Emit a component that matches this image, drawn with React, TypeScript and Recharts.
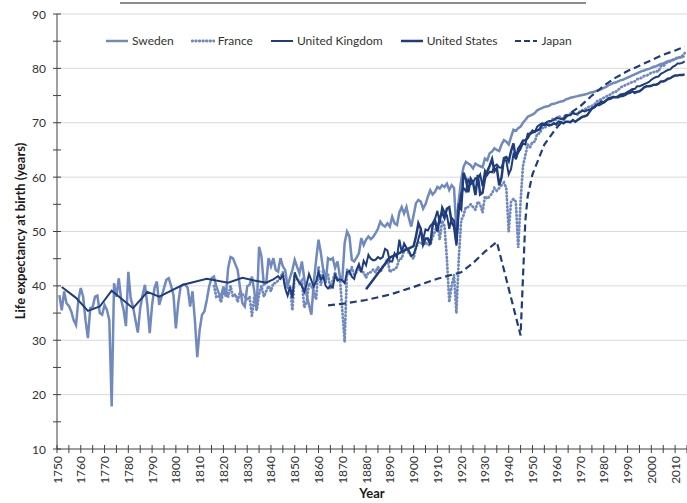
import { LineChart, Line, XAxis, YAxis, CartesianGrid } from "recharts";

// ---- data ----
const xTicks = [
  1750, 1755, 1760, 1765, 1770, 1775, 1780, 1785, 1790, 1795, 1800, 1805, 1810, 1815,
  1820, 1825, 1830, 1835, 1840, 1845, 1850, 1855, 1860, 1865, 1870, 1875, 1880, 1885,
  1890, 1895, 1900, 1905, 1910, 1915, 1920, 1925, 1930, 1935, 1940, 1945, 1950, 1955,
  1960, 1965, 1970, 1975, 1980, 1985, 1990, 1995, 2000, 2005, 2010, 2015,
];
const yTicks = [10, 15, 20, 25, 30, 35, 40, 45, 50, 55, 60, 65, 70, 75, 80, 85, 90];
const gridValues = [20, 30, 40, 50, 60, 70, 80, 90];

// Sweden, yearly from 1751
const swedenStart = 1751;
const swedenValues = [
  38.3, 35.5, 39.0, 36.8, 36.3, 35.3, 33.7, 32.8, 37.4, 39.6, 38.0, 33.7, 30.4, 35.9, 36.1,
  38.0, 38.2, 35.0, 34.7, 36.5, 35.6, 33.7, // 1751-1772
  17.8, 40.5, 38.0, 41.4, 37.4, 35.6, 32.6, 42.6, 37.7, 36.1, 33.7, 31.4, 35.9, 38.3, 40.2,
  36.5, 31.3, 36.5, 39.6, 40.8, 36.5, 38.0, 39.6, 41.1, 41.4, // 1773-1797
  40.0, 38.3, 32.2, 36.8, 39.9, 40.2, 40.2, 39.6, 36.2, 39.0, 33.7, 26.9, 31.9, 34.7, 35.3,
  37.4, 39.9, 41.4, 41.7, 39.9, 38.7, 38.0, 39.9, 38.0, 43.3, // 1798-1822
  45.3, 45.1, 44.0, 42.9, 39.6, 36.8, 36.2, 39.9, 40.2, 41.7, 39.0, 35.6, 47.2, // 1823-1835
  45.4, 40.2, 40.5, 45.1, 43.6, 45.1, 42.9, 42.6, 45.1, 43.6, 42.9, 39.9, 41.5, 42.9, 44.8,
  43.5, 42.3, 44.5, 41.4, 38.3, 36.5, 34.7, 40.5, 44.8, 48.5, // 1836-1860
  46.0, 42.9, 40.5, 45.1, 44.8, 45.1, 43.3, 44.5, 41.7, 41.1, 47.9, 50.0, 49.1, 44.8, 44.5,
  45.2, 46.0, 48.8, 47.5, 48.5, 49.1, 48.6, 49.0, 49.7, // 1861-1884
  50.5, 51.8, 51.2, 50.9, 51.5, 50.9, 52.7, 51.5, 51.2, 53.5, 54.5, 53.3, 54.5, 52.5, 50.9,
  53.0, 55.2, 55.8, 55.5, 54.2, 55.0, 56.4, 57.6, 56.8, 57.3, 58.2, 57.9, 58.5, 58.2, 58.8,
  57.6, 58.5, 58.0, 50.2, 55.8, 59.4, 61.9, 62.8, // 1885-1922
  62.5, 62.2, 61.6, 62.5, 62.2, 62.0, 61.8, 63.4, 63.1, 64.4, 64.7, 65.3, 65.0, 64.8, 66.0,
  66.8, 66.5, 66.0, 67.4, 68.7, 68.5, 69.0, 69.3, 70.0, 70.5, 71.1, 71.3, 71.5, // 1923-1950
  71.8, 72.3, 72.5, 72.7, 72.9, 73.0, 73.1, 73.4, 73.5, 73.6, // 1951-1960
  73.8, 73.9, 74.0, 74.3, 74.4, 74.6, 74.7, 74.8, 74.9, 75.0, // 1961-1970
  75.1, 75.2, 75.3, 75.5, 75.6, 75.7, 75.9, 76.0, 76.2, 76.4, // 1971-1980
  76.6, 76.9, 77.1, 77.3, 77.4, 77.6, 77.8, 77.9, 78.1, 78.3, // 1981-1990
  78.5, 78.7, 78.9, 79.1, 79.3, 79.5, 79.6, 79.8, 79.9, 80.1, // 1991-2000
  80.3, 80.4, 80.6, 80.8, 80.9, 81.1, 81.3, 81.4, 81.6, 81.7, // 2001-2010
  81.9, 82.0, 82.1, 82.3, // 2011-2014
];

// France, yearly from 1816
const franceStart = 1816;
const franceValues = [
  40.0, 38.0, 38.2, 37.0, // 1816-1819
  39.0, 39.5, 38.0, 40.0, 38.0, 38.5, 37.0, 39.0, 38.5, 38.0,
  37.5, 38.0, 34.5, 38.0, 35.5, 38.5, 40.0, 38.0, 39.0, 40.0,
  39.0, 40.5, 40.5, 41.0, 41.5, 42.5, 40.0, 39.5, 40.0, 35.5,
  42.0, 41.5, 40.5, 41.0, 36.0, 37.0, 40.5, 40.0, 39.0, 37.5,
  43.5, 40.0, 43.0, 42.0, 42.0, 39.5, 41.0, 42.5, 41.0, 41.5,
  35.5, 29.7, 43.0, 42.0, 43.5, 42.0, 42.5, 43.5, 42.5, 42.5,
  41.5, 42.5, 42.5, 43.0, 42.5, 43.5, 42.5, 43.5, 44.0, 45.0,
  42.5, 43.0, 43.0, 43.5, 45.0, 45.0, 46.5, 47.0, 46.0, 45.5,
  45.0, 47.0, 48.0, 48.0, 47.5, 48.0, 47.5, 47.5, 49.0, 50.0,
  51.5, 48.5, 52.0, 51.0, 45.0, 37.0, 40.0, 42.0, 35.0, 45.0,
  52.0, 53.0, 54.5, 54.5, 55.0, 54.5, 54.0, 55.5, 55.0, 53.5,
  56.5, 56.0, 56.5, 57.0, 58.0, 57.5, 58.0, 58.5, 59.0, 58.0,
  50.0, 55.5, 56.0, 55.5, 47.0, 55.5, 62.0, 64.0, 66.0, 65.5,
  66.5, 66.5, 68.0, 68.0, 69.0, 69.0, 69.5, 69.8, 70.5, 70.8,
  70.5, 71.3, 70.8, 70.8, 71.5, 71.3, 71.7, 71.7, 71.6, 71.5,
  72.2, 72.3, 72.5, 72.7, 73.0, 73.1, 73.3, 73.9, 74.1, 74.4,
  74.6, 74.8, 75.1, 75.2, 75.6, 75.7, 76.0, 76.5, 76.7, 76.9,
  77.1, 77.3, 77.5, 77.6, 78.0, 78.1, 78.3, 78.6, 78.7, 78.9,
  79.2, 79.3, 79.5, 79.4, 80.4, 80.4, 80.9, 81.2, 81.3, 81.5,
  81.7, 82.1, 82.0, 82.3, 82.8, // 2010-2014
];

// United Kingdom: sparse estimates before 1841, yearly after
const ukEarlyYears = [1752, 1758, 1763, 1768, 1773, 1782, 1788, 1793, 1803, 1813, 1822, 1828, 1833, 1838];
const ukEarlyValues = [39.8, 37.8, 35.4, 36.2, 39.1, 35.9, 38.9, 38.0, 40.2, 41.3, 40.6, 41.5, 41.0, 40.6];
const ukStart = 1841;
const ukValues = [
  41.2, 41.5, 41.8, 41.3, 42.0, 39.5, 38.2, 39.8, 37.8, // 1841-1849
  42.5, 41.2, 40.6, 40.0, 38.9, 40.3, 42.2, 41.0, 39.9, 40.8,
  42.5, 41.2, 41.8, 40.0, 39.5, 40.0, 39.7, 42.0, 41.0, 41.2,
  41.0, 40.5, 42.5, 42.7, 41.7, 41.3, 43.0, 44.0, 42.5, 44.6,
  43.8, 45.7, 45.0, 44.7, 44.8, 45.3, 45.0, 45.3, 46.8, 46.5,
  44.5, 44.5, 46.0, 45.2, 48.5, 46.2, 47.8, 47.0, 46.5, 45.5,
  45.8, 47.0, 48.6, 50.2, 48.5, 50.4, 50.2, 51.0, 51.5, 52.3,
  53.8, 51.5, 54.5, 53.5, 53.0, 50.5, 52.5, 52.0, 47.4, 54.0,
  57.0, 58.0, 57.4, 59.5, 58.7, 59.0, 59.8, 59.7, 60.5, 58.3,
  61.2, 60.4, 61.0, 60.9, 62.0, 62.3, 61.8, 61.7, 63.2, 63.0,
  60.5, 61.5, 64.2, 63.5, 64.5, 65.2, 66.2, 66.0, 68.0, 68.0,
  68.6, 68.3, 69.3, 69.6, 69.9, 69.8, 70.1, 70.3, 70.3, 70.5,
  70.9, 70.8, 70.7, 70.6, 71.4, 71.4, 71.4, 71.9, 71.6, 71.7,
  71.9, 72.2, 72.1, 72.3, 72.4, 72.7, 72.8, 73.2, 73.2, 73.4,
  73.8, 74.1, 74.3, 74.4, 74.8, 74.7, 74.9, 75.2, 75.3, 75.4,
  75.7, 75.9, 76.2, 76.2, 76.7, 76.7, 76.9, 77.1, 77.3, 77.5,
  77.9, 78.2, 78.4, 78.5, 79.0, 79.2, 79.5, 79.7, 79.8, 80.3,
  80.5, 80.9, 80.9, 81.0, 81.3, // 2010-2014
];

// United States: 1880, 1890, then yearly from 1900
const usEarlyYears = [1880, 1890];
const usEarlyValues = [39.4, 45.2];
const usStart = 1900;
const usValues = [
  47.3, 49.1, 51.5, 50.5, 47.6, 48.7, 48.7, 47.6, 51.1, 52.1,
  50.0, 52.6, 53.5, 52.5, 54.2, 54.5, 51.7, 50.9, 47.8, 54.7,
  54.1, 60.8, 59.6, 57.2, 59.7, 59.0, 56.7, 60.4, 56.8, 57.1,
  59.7, 61.1, 62.1, 63.3, 61.1, 61.7, 58.5, 60.0, 63.5, 63.7,
  62.9, 64.8, 66.2, 63.3, 65.2, 65.9, 66.7, 66.8, 67.2, 68.0,
  68.2, 68.4, 68.6, 68.8, 69.6, 69.6, 69.7, 69.5, 69.6, 69.9,
  69.7, 70.2, 70.1, 69.9, 70.2, 70.2, 70.1, 70.5, 70.2, 70.5,
  70.8, 71.1, 71.2, 71.4, 72.0, 72.6, 72.9, 73.3, 73.5, 73.9,
  73.7, 74.1, 74.5, 74.6, 74.7, 74.7, 74.7, 74.9, 74.9, 75.1,
  75.4, 75.5, 75.8, 75.5, 75.7, 75.8, 76.1, 76.5, 76.7, 76.7,
  76.8, 77.0, 77.0, 77.2, 77.6, 77.6, 77.8, 78.1, 78.2, 78.5,
  78.7, 78.7, 78.8, 78.8, 78.9, // 2010-2014
];

// Japan
const japanYears = [
  1864, 1870, 1880, 1890, 1900, 1910, 1920, 1925, 1930, 1935, 1945, 1947, 1948, 1950,
  1955, 1960, 1965, 1970, 1975, 1980, 1985, 1990, 1995, 2000, 2005, 2010, 2014,
];
const japanValues = [
  36.4, 36.7, 37.4, 38.4, 39.8, 41.3, 42.5, 44.2, 46.3, 48.1, 30.9, 52.0, 56.5, 60.5,
  66.0, 69.0, 71.5, 73.0, 75.0, 76.8, 78.3, 79.5, 80.5, 81.5, 82.5, 83.3, 84.0,
];

// ---- tables for the chart ----
const yearly = (start: number, values: number[]) =>
  values.map((v, i) => ({ year: start + i, value: v }));
const paired = (years: number[], values: number[]) =>
  years.map((y, i) => ({ year: y, value: values[i] }));

const swedenData = yearly(swedenStart, swedenValues);
const franceData = yearly(franceStart, franceValues);
const ukData = [...paired(ukEarlyYears, ukEarlyValues), ...yearly(ukStart, ukValues)];
const usData = [...paired(usEarlyYears, usEarlyValues), ...yearly(usStart, usValues)];
const japanData = paired(japanYears, japanValues);

const LIGHT = "#7089bf";
const NAVY = "#1f3d7c";
const AXIS = "#404040";
const TEXT = "#333333";
const FRANCE_DASH = "0.6 3";
const JAPAN_DASH = "7 4";

const YearTick = (props: any) => {
  const { x, y, payload } = props;
  const yr = payload.value;
  return (
    <g>
      <line x1={x} x2={x} y1={y - 4} y2={y + 4} stroke={AXIS} strokeWidth={1} />
      {yr % 10 === 0 && (
        <text
          x={x}
          y={y + 7}
          transform={`rotate(-90 ${x} ${y + 7})`}
          textAnchor="end"
          dominantBaseline="central"
          fontSize={12}
          fill={TEXT}
        >
          {yr}
        </text>
      )}
    </g>
  );
};

const ValueTick = (props: any) => {
  const { x, y, payload } = props;
  const v = payload.value;
  return (
    <g>
      <line x1={x - 4} x2={x + 4} y1={y} y2={y} stroke={AXIS} strokeWidth={1} />
      {v % 10 === 0 && (
        <text x={x - 11} y={y} textAnchor="end" dominantBaseline="central" fontSize={12} fill={TEXT}>
          {v}
        </text>
      )}
    </g>
  );
};

const legendItems = [
  { name: "Sweden", color: LIGHT, width: 2.5, dash: undefined as string | undefined, cap: "butt" },
  { name: "France", color: LIGHT, width: 2.8, dash: FRANCE_DASH, cap: "round" },
  { name: "United Kingdom", color: NAVY, width: 2, dash: undefined, cap: "butt" },
  { name: "United States", color: NAVY, width: 2.5, dash: undefined, cap: "butt" },
  { name: "Japan", color: NAVY, width: 2.2, dash: "6 3", cap: "butt" },
];

export default function App() {
  return (
    <div
      style={{
        position: "absolute",
        left: 0,
        top: 0,
        width: 687,
        height: 503,
        background: "#ffffff",
        fontFamily: "Lato, 'Open Sans', sans-serif",
        overflow: "hidden",
      }}
    >
      {/* cropped frame edge at the very top */}
      <div style={{ position: "absolute", left: 120, top: 2, width: 466, height: 2, background: "#8c8c8c" }} />

      <LineChart width={687} height={503} margin={{ top: 14, right: 0, bottom: 0, left: 0 }}>
        <CartesianGrid vertical={false} horizontalValues={gridValues} stroke="#d9d9d9" strokeWidth={1} />
        <XAxis
          dataKey="year"
          type="number"
          domain={[1750, 2015]}
          ticks={xTicks}
          interval={0}
          height={54}
          tickSize={0}
          tickMargin={0}
          tickLine={false}
          axisLine={{ stroke: AXIS, strokeWidth: 1 }}
          tick={<YearTick />}
          allowDataOverflow
        />
        <YAxis
          type="number"
          domain={[10, 90]}
          ticks={yTicks}
          interval={0}
          width={57}
          tickSize={0}
          tickMargin={0}
          tickLine={false}
          axisLine={{ stroke: AXIS, strokeWidth: 1 }}
          tick={<ValueTick />}
          allowDataOverflow
        />
        <Line data={swedenData} dataKey="value" type="linear" stroke={LIGHT} strokeWidth={2.5} dot={false} activeDot={false} isAnimationActive={false} />
        <Line data={franceData} dataKey="value" type="linear" stroke={LIGHT} strokeWidth={2.8} strokeDasharray={FRANCE_DASH} strokeLinecap="round" dot={false} activeDot={false} isAnimationActive={false} />
        <Line data={ukData} dataKey="value" type="linear" stroke={NAVY} strokeWidth={2} dot={false} activeDot={false} isAnimationActive={false} />
        <Line data={usData} dataKey="value" type="linear" stroke={NAVY} strokeWidth={2.5} dot={false} activeDot={false} isAnimationActive={false} />
        <Line data={japanData} dataKey="value" type="linear" stroke={NAVY} strokeWidth={2.2} strokeDasharray={JAPAN_DASH} dot={false} activeDot={false} isAnimationActive={false} />
      </LineChart>

      {/* legend */}
      <div
        style={{
          position: "absolute",
          left: 105,
          top: 33,
          display: "flex",
          alignItems: "center",
          gap: 17,
          fontSize: 12,
          color: TEXT,
        }}
      >
        {legendItems.map((it) => (
          <div key={it.name} style={{ display: "flex", alignItems: "center", gap: 3 }}>
            <svg width={24} height={10}>
              <line
                x1={1}
                x2={23}
                y1={5}
                y2={5}
                stroke={it.color}
                strokeWidth={it.width}
                strokeDasharray={it.dash}
                strokeLinecap={it.cap as any}
              />
            </svg>
            <span>{it.name}</span>
          </div>
        ))}
      </div>

      {/* axis titles */}
      <div
        style={{
          position: "absolute",
          left: 20,
          top: 231,
          transform: "translate(-50%, -50%) rotate(-90deg)",
          whiteSpace: "nowrap",
          fontSize: 13,
          fontWeight: 700,
          color: "#1a1a1a",
        }}
      >
        Life expectancy at birth (years)
      </div>
      <div
        style={{
          position: "absolute",
          left: 372,
          top: 493,
          transform: "translate(-50%, -50%)",
          fontSize: 13,
          fontWeight: 700,
          color: "#1a1a1a",
        }}
      >
        Year
      </div>
    </div>
  );
}
